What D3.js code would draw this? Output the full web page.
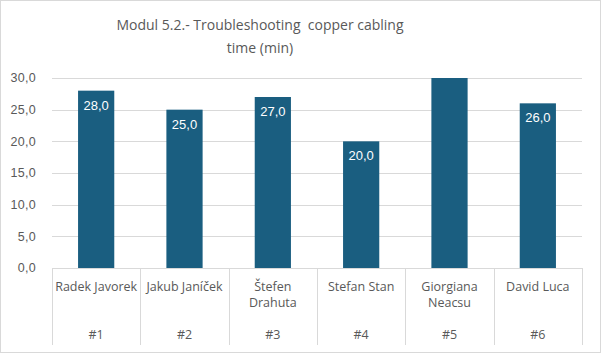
<!DOCTYPE html>
<html>
<head>
<meta charset="utf-8">
<script src="https://cdn.jsdelivr.net/npm/d3@7"></script>
<style>
  body { margin: 0; background: #fff; }
  svg { display: block; }
  .grid line { stroke: #d9d9d9; stroke-width: 1; }
  .tick-label { font-family: "Liberation Sans", Arial, sans-serif; font-size: 12.5px; fill: #595959; letter-spacing: 0.3px; }
  .cat-label { font-family: "Open Sans", Lato, sans-serif; font-size: 12.5px; fill: #595959; }
  .title { font-family: "Open Sans", Lato, sans-serif; font-size: 14px; fill: #595959; white-space: pre; }
  .bar-label { font-family: "Liberation Sans", Arial, sans-serif; font-size: 13px; fill: #fff; }
</style>
</head>
<body>
<svg id="chart"></svg>
<script>
// chart data
const names = ["Radek Javorek", "Jakub Janíček", "Štefen Drahuta", "Stefan Stan", "Giorgiana Neacsu", "David Luca"];
const ranks = ["#1", "#2", "#3", "#4", "#5", "#6"];
const times = [28, 25, 27, 20, 31, 26];
const yTicks = [0, 5, 10, 15, 20, 25, 30];
const titleLines = ["Modul 5.2.- Troubleshooting  copper cabling", "time (min)"];

const config = {
    width: 601,
    height: 353,
    margin: {top: 78, right: 19, bottom: 85, left: 52},
    barColor: "#1a5e80"
};

const svg = d3.select("#chart")
    .attr("width", config.width)
    .attr("height", config.height);

// outer border
svg.append("rect")
    .attr("x", 0.5).attr("y", 0.5)
    .attr("width", config.width - 1).attr("height", config.height - 1)
    .attr("fill", "#fff")
    .attr("stroke", "#d9d9d9");

const innerW = config.width - config.margin.left - config.margin.right;
const innerH = config.height - config.margin.top - config.margin.bottom;

const chart = svg.append("g")
    .attr("transform", `translate(${config.margin.left},${config.margin.top})`);

// scales
const x = d3.scaleBand()
    .domain(d3.range(names.length))
    .range([0, innerW])
    .paddingInner(0.59)
    .paddingOuter(0.295);

const xBand = d3.scaleBand()
    .domain(d3.range(names.length))
    .range([0, innerW]);

const y = d3.scaleLinear()
    .domain([0, 30])
    .range([innerH, 0]);

const fmt = d => d3.format(".1f")(d).replace(".", ",");

// gridlines
chart.append("g")
    .attr("class", "grid")
    .selectAll("line")
    .data(yTicks.slice(1))
    .join("line")
    .attr("x1", 0).attr("x2", innerW)
    .attr("y1", d => Math.round(y(d)) + 0.5)
    .attr("y2", d => Math.round(y(d)) + 0.5);

// y tick labels
chart.append("g")
    .selectAll("text")
    .data(yTicks)
    .join("text")
    .attr("class", "tick-label")
    .attr("x", -16)
    .attr("y", d => y(d))
    .attr("dy", "0.35em")
    .attr("text-anchor", "end")
    .text(fmt);

// bars, clipped at the axis max
chart.append("clipPath").attr("id", "plot-clip")
    .append("rect").attr("x", 0).attr("y", 0).attr("width", innerW).attr("height", innerH);

chart.append("g")
    .attr("clip-path", "url(#plot-clip)")
    .selectAll("rect")
    .data(times)
    .join("rect")
    .attr("x", (d, i) => x(i))
    .attr("width", x.bandwidth())
    .attr("y", d => y(d))
    .attr("height", d => innerH - y(d))
    .attr("fill", config.barColor);

// data labels
chart.append("g")
    .selectAll("text")
    .data(times)
    .join("text")
    .attr("class", "bar-label")
    .attr("x", (d, i) => x(i) + x.bandwidth() / 2)
    .attr("y", d => y(d) + 19)
    .attr("text-anchor", "middle")
    .text(d => d > 30 ? "" : fmt(d));

// category axis: baseline and separators
const axisG = chart.append("g").attr("class", "grid");
axisG.append("line")
    .attr("x1", 0).attr("x2", innerW)
    .attr("y1", innerH + 0.5).attr("y2", innerH + 0.5);
axisG.selectAll(".sep")
    .data(d3.range(names.length + 1))
    .join("line")
    .attr("class", "sep")
    .attr("x1", i => Math.round(i < names.length ? xBand(i) : innerW) + 0.5)
    .attr("x2", i => Math.round(i < names.length ? xBand(i) : innerW) + 0.5)
    .attr("y1", innerH)
    .attr("y2", innerH + 77);

// names, wrapped to the band width
const nameG = chart.append("g")
    .selectAll("text")
    .data(names)
    .join("text")
    .attr("class", "cat-label")
    .attr("text-anchor", "middle")
    .attr("x", (d, i) => xBand(i) + xBand.bandwidth() / 2)
    .attr("y", innerH + 23);

nameG.each(function (d, i) {
    const el = d3.select(this);
    const cx = xBand(i) + xBand.bandwidth() / 2;
    const words = d.split(" ");
    let line = [];
    let tspan = el.append("tspan").attr("x", cx).attr("dy", 0);
    words.forEach(w => {
        line.push(w);
        tspan.text(line.join(" "));
        if (tspan.node().getComputedTextLength() > xBand.bandwidth() - 2 && line.length > 1) {
            line.pop();
            tspan.text(line.join(" "));
            line = [w];
            tspan = el.append("tspan").attr("x", cx).attr("dy", "1.3em").text(w);
        }
    });
});

// ranks
chart.append("g")
    .selectAll("text")
    .data(ranks)
    .join("text")
    .attr("class", "cat-label")
    .attr("text-anchor", "middle")
    .attr("x", (d, i) => xBand(i) + xBand.bandwidth() / 2)
    .attr("y", innerH + 71)
    .text(d => d);

// title
svg.append("g")
    .selectAll("text")
    .data(titleLines)
    .join("text")
    .attr("class", "title")
    .attr("x", 260)
    .attr("y", (d, i) => 30 + i * 23)
    .attr("text-anchor", "middle")
    .text(d => d);
</script>
</body>
</html>
